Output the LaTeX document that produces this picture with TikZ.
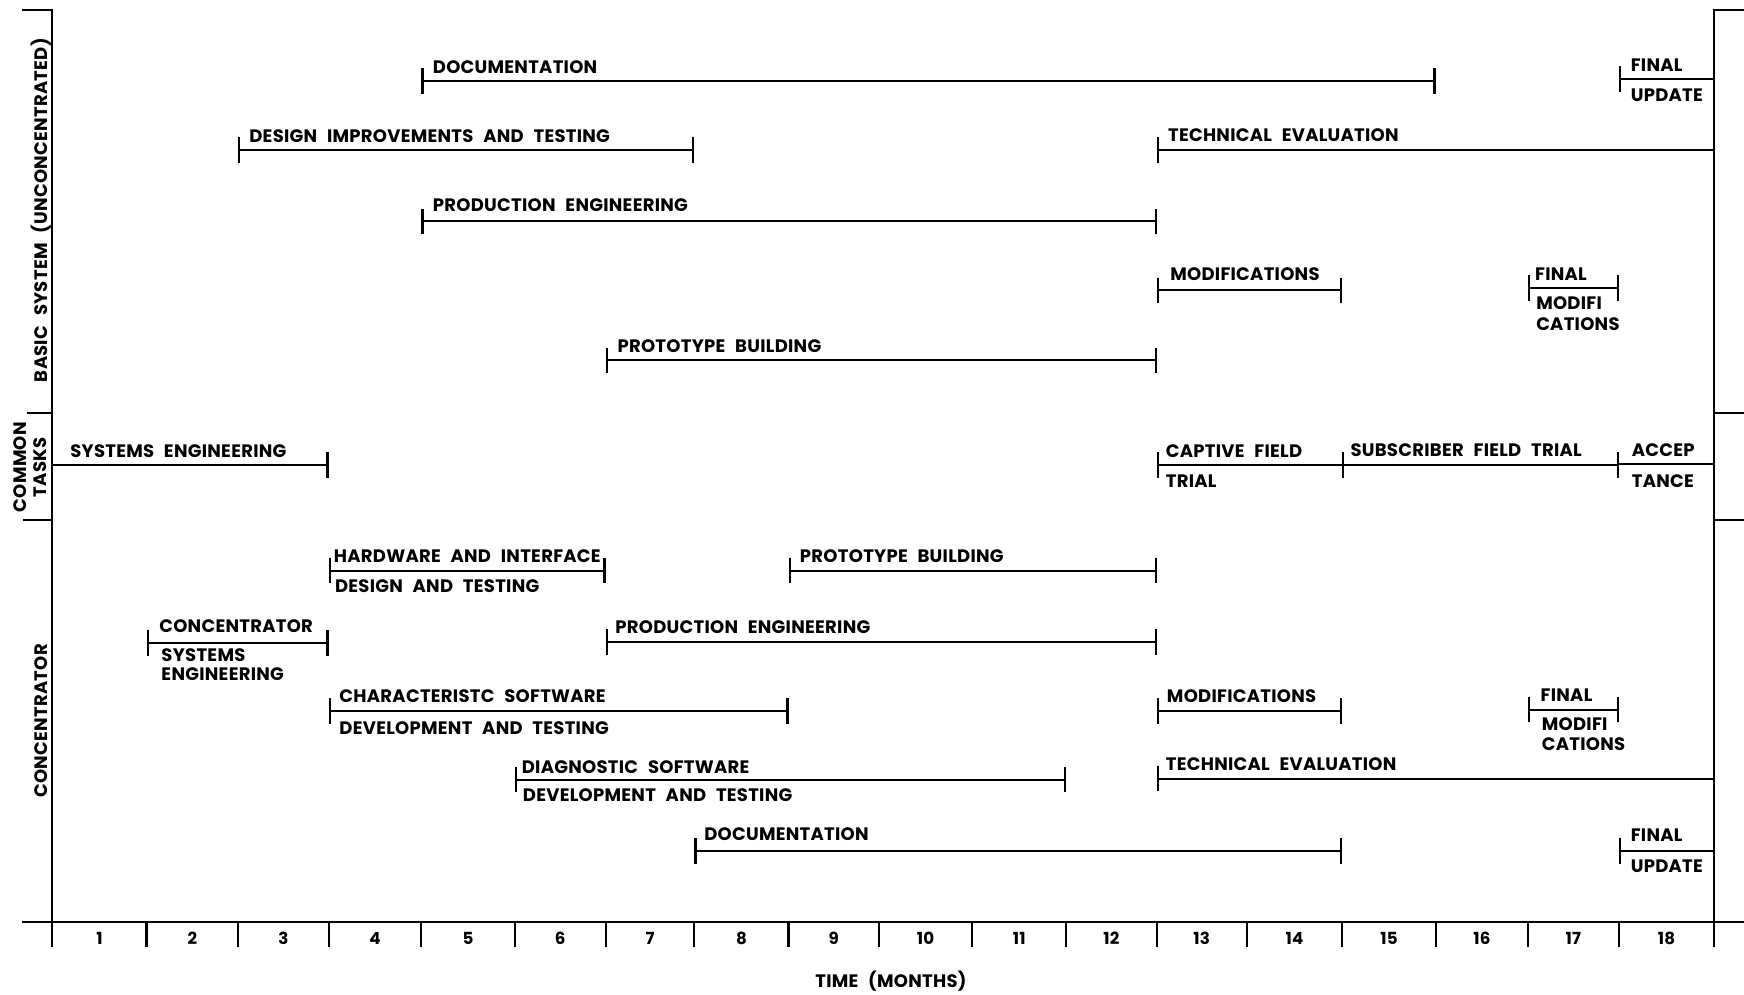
\documentclass[tikz,border=0pt]{standalone}
\usepackage{fontspec}
\setmainfont{Poppins}[LetterSpace=1.5,WordSpace={2.4,1,1}]
\usetikzlibrary{arrows.meta,calc}

\newcommand\chartfont{\fontsize{16.2}{18}\bfseries\selectfont}
\newcommand\axisfont{\fontsize{15}{17}\bfseries\selectfont}
% one task bar: name, y, start x, end x, tip spec
\newcommand\ganttbar[5]{%
  \coordinate (#1-s) at (#3,#2);
  \coordinate (#1-e) at (#4,#2);
  \draw[bar,#5] (#1-s) -- (#1-e);}

\begin{document}
\begin{tikzpicture}[x=1pt,y=-1pt,
  frame/.style={line width=2pt},
  bar/.style={line width=1.9pt},
  endmark/.tip={Bar[width=23pt,line width=2pt]},
  lbl/.style={anchor=base west,inner sep=0pt,font=\chartfont},
  side/.style={rotate=90,inner sep=0pt,font=\chartfont,align=center},
  month/.style={anchor=base,inner sep=0pt,font=\axisfont}]

\useasboundingbox (0,0) rectangle (1568,894);

% month boundaries along the time axis
\foreach \n/\x in {0/47,1/131.8,2/214,3/295.5,4/378.8,5/463,6/544.5,7/624.3,
  8/709,9/790.2,10/874.2,11/958.4,12/1040,13/1121,14/1206.7,15/1290.8,
  16/1373.8,17/1455.5,18/1541}
  \coordinate (t\n) at (\x,829);

% outer frame and section dividers
\coordinate (tl) at (20,9);
\coordinate (tr) at (1568,9);
\coordinate (al) at (20,829);
\coordinate (ar) at (1568,829);
\draw[frame] (tl) -| (t0 |- 0,851);
\draw[frame] (tr) -| (t18 |- 0,851);
\draw[frame] (al) -- (ar);
\draw[frame] (24,371.5) -- (t0 |- 0,371.5);
\draw[frame] (21,467.5) -- (t0 |- 0,467.5);
\draw[frame] (t18 |- 0,371.5) -- (1568,371.5);
\draw[frame] (t18 |- 0,467.5) -- (1568,467.5);
\foreach \n in {1,...,17}
  \draw[frame] (t\n) -- ++(0,22);

% month numbers
\foreach \a/\b [count=\m] in {0/1,1/2,2/3,3/4,4/5,5/6,6/7,7/8,8/9,9/10,
  10/11,11/12,12/13,13/14,14/15,15/16,16/17,17/18}
  \node[month] (m\m) at ($(t\a)!0.5!(t\b)+(0,20)$) {\m};
\node[month,font=\chartfont] (xlab) at (801,888) {TIME (MONTHS)};

% group titles
\node[side] (gbasic) at (37,189) {BASIC SYSTEM (UNCONCENTRATED)};
\node[side] (gcommon) at (27,420) {COMMON\\TASKS};
\node[side] (gconc) at (37,648) {CONCENTRATOR};

% ---- basic system (unconcentrated)
\ganttbar{doc}{73}{378.8}{1290.8}{endmark-endmark}
\node[lbl] (doc-l) at (389,66) {DOCUMENTATION};
\ganttbar{fup}{71}{1455.5}{1541}{endmark-}
\node[lbl] (fup-a) at (1466,64) {FINAL};
\node[lbl] (fup-b) at (1466,91) {UPDATE};
\ganttbar{dit}{135}{214}{624.3}{endmark-endmark}
\node[lbl] (dit-l) at (224,128) {DESIGN IMPROVEMENTS AND TESTING};
\ganttbar{tev}{135}{1040}{1541}{endmark-}
\node[lbl] (tev-l) at (1050,127) {TECHNICAL EVALUATION};
\ganttbar{pen}{199}{378.8}{1040}{endmark-endmark}
\node[lbl] (pen-l) at (389,190) {PRODUCTION ENGINEERING};
\ganttbar{mod}{261}{1040}{1206.7}{endmark-endmark}
\node[lbl] (mod-l) at (1052,252) {MODIFICATIONS};
\ganttbar{fmo}{259}{1373.8}{1455.5}{endmark-endmark}
\node[lbl] (fmo-a) at (1380,252) {FINAL};
\node[lbl] (fmo-b) at (1381,278) {MODIFI};
\node[lbl] (fmo-c) at (1381,297) {CATIONS};
\ganttbar{pbu}{324}{544.5}{1040}{endmark-endmark}
\node[lbl] (pbu-l) at (555,317) {PROTOTYPE BUILDING};

% ---- common tasks
\ganttbar{sen}{418}{47}{295.5}{-endmark}
\node[lbl] (sen-l) at (63,411) {SYSTEMS ENGINEERING};
\ganttbar{cft}{418}{1040}{1206.7}{endmark-}
\node[lbl] (cft-a) at (1048,411) {CAPTIVE FIELD};
\node[lbl] (cft-b) at (1048,438) {TRIAL};
\ganttbar{sft}{418}{1206.7}{1455.5}{endmark-endmark}
\node[lbl] (sft-l) at (1214,410) {SUBSCRIBER FIELD TRIAL};
\ganttbar{acc}{417}{1455.5}{1541}{-}
\node[lbl] (acc-a) at (1467,410) {ACCEP};
\node[lbl] (acc-b) at (1467,438) {TANCE};

% ---- concentrator
\ganttbar{hwi}{513}{295.5}{544.5}{endmark-endmark}
\node[lbl] (hwi-a) at (300,506) {HARDWARE AND INTERFACE};
\node[lbl] (hwi-b) at (301,533) {DESIGN AND TESTING};
\ganttbar{pbc}{513}{709}{1040}{endmark-endmark}
\node[lbl] (pbc-l) at (719,506) {PROTOTYPE BUILDING};
\ganttbar{cse}{578}{131.8}{295.5}{endmark-endmark}
\node[lbl] (cse-a) at (143,569) {CONCENTRATOR};
\node[lbl] (cse-b) at (145,595) {SYSTEMS};
\node[lbl] (cse-c) at (145,612) {ENGINEERING};
\ganttbar{pec}{577}{544.5}{1040}{endmark-endmark}
\node[lbl] (pec-l) at (553,570) {PRODUCTION ENGINEERING};
\ganttbar{csw}{639}{295.5}{709}{endmark-endmark}
\node[lbl] (csw-a) at (305,632) {CHARACTERISTC SOFTWARE};
\node[lbl] (csw-b) at (305,660) {DEVELOPMENT AND TESTING};
\ganttbar{moc}{639}{1040}{1206.7}{endmark-endmark}
\node[lbl] (moc-l) at (1049,632) {MODIFICATIONS};
\ganttbar{fmc}{638}{1373.8}{1455.5}{endmark-endmark}
\node[lbl] (fmc-a) at (1385,631) {FINAL};
\node[lbl] (fmc-b) at (1386,657) {MODIFI};
\node[lbl] (fmc-c) at (1386,675) {CATIONS};
\ganttbar{dsw}{701}{463}{958.4}{endmark-endmark}
\node[lbl] (dsw-a) at (469,695) {DIAGNOSTIC SOFTWARE};
\node[lbl] (dsw-b) at (470,721) {DEVELOPMENT AND TESTING};
\ganttbar{tec}{700}{1040}{1541}{endmark-}
\node[lbl] (tec-l) at (1048,693) {TECHNICAL EVALUATION};
\ganttbar{dcc}{765}{624.3}{1206.7}{endmark-endmark}
\node[lbl] (dcc-l) at (633,756) {DOCUMENTATION};
\ganttbar{fuc}{765}{1455.5}{1541}{endmark-}
\node[lbl] (fuc-a) at (1466,757) {FINAL};
\node[lbl] (fuc-b) at (1466,784) {UPDATE};
\end{tikzpicture}
\end{document}
